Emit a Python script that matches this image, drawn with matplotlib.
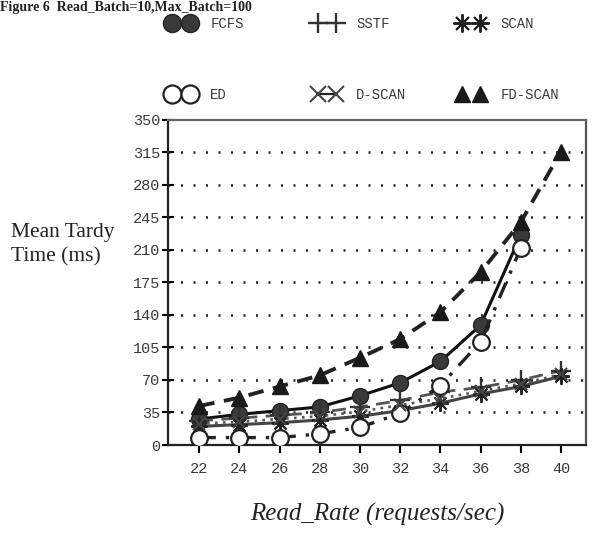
import matplotlib
matplotlib.use("Agg")
import matplotlib.pyplot as plt
from matplotlib.lines import Line2D

# Read rate (requests/sec)
rate = [22, 24, 26, 28, 30, 32, 34, 36, 38, 40]

# Mean tardy time (ms) per scheduling policy
fcfs = [28, 33, 37, 41, 53, 67, 90, 129, 226]
sstf = [26, 29, 32, 35, 41, 48, 57, 62, 70, 80]
scan = [20, 22, 24, 27, 31, 37, 45, 55, 63, 74]
ed = [8, 8, 8, 12, 19, 34, 64, 111, 212]
dscan = [23, 25, 28, 31, 36, 43, 50, 58, 66, 76]
fdscan = [42, 51, 63, 75, 94, 114, 143, 186, 240, 316]

yticks = [0, 35, 70, 105, 140, 175, 210, 245, 280, 315, 350]

fig = plt.figure(figsize=(5.92, 5.33), dpi=100)
ax = fig.add_axes([0.2838, 0.1651, 0.7062, 0.6098])

mono = "Liberation Mono"
serif = "Liberation Serif"

# horizontal dotted grid
for v in yticks[1:-1]:
    ax.axhline(v, color="#222222", lw=1.8, ls=(0, (0.8, 4.2)), zorder=1)

styles = {
    "FCFS": dict(x=rate[:len(fcfs)], y=fcfs, color="#111111", lw=2.2, ls="-",
                 marker="o", ms=11.5, mfc="#3a3a3a", mec="#222222"),
    "SSTF": dict(x=rate, y=sstf, color="#555555", lw=2.0, ls=(0, (5, 3)),
                 marker="+", ms=14, mfc="none", mec="#333333", mew=1.7),
    "SCAN": dict(x=rate, y=scan, color="#444444", lw=2.2, ls="-",
                 marker=(8, 2, 0), ms=12, mfc="#333333", mec="#222222", mew=1.4),
    "ED": dict(x=rate[:len(ed)], y=ed, color="#222222", lw=2.4, ls=(0, (5, 3, 1, 3)),
               marker="o", ms=12, mfc="white", mec="#222222", mew=1.6),
    "D-SCAN": dict(x=rate, y=dscan, color="#555555", lw=1.9, ls=(0, (1, 2)),
                   marker="x", ms=9, mfc="none", mec="#444444", mew=1.5),
    "FD-SCAN": dict(x=rate, y=fdscan, color="#222222", lw=2.8, ls=(0, (4, 2.5)),
                    marker="^", ms=11, mfc="#1a1a1a", mec="#1a1a1a"),
}

for name, s in styles.items():
    s = dict(s)
    x = s.pop("x")
    y = s.pop("y")
    ax.plot(x, y, zorder=3, **s)

ax.set_xlim(20.45, 41.25)
ax.set_ylim(0, 350)
ax.set_xticks(rate)
ax.set_yticks(yticks)
ax.set_xticklabels([str(r) for r in rate], fontfamily=mono, fontsize=11, color="#3a3a3a")
ax.set_yticklabels([str(v) for v in yticks], fontfamily=mono, fontsize=11, color="#3a3a3a")
ax.tick_params(axis="y", direction="inout", length=9, width=1.5, pad=1)
ax.tick_params(axis="x", direction="out", length=6, width=1.5, pad=6)
for sp in ax.spines.values():
    sp.set_linewidth(1.6)
    sp.set_color("#222222")
ax.spines["top"].set_color("#666666")
ax.spines["right"].set_color("#555555")

fig.text(0.018, 0.541, "Mean Tardy\nTime (ms)", fontfamily=serif, fontsize=15.5,
         color="#222222", ha="left", va="center", linespacing=1.35)
fig.text(0.637, 0.035, "Read_Rate (requests/sec)", fontfamily=serif, fontsize=18,
         style="italic", color="#222222", ha="center", va="center")

fig.text(0.0, 0.999, "Figure 6  Read_Batch=10,Max_Batch=100", fontfamily=serif,
         fontsize=10, fontweight="bold", color="#222222", ha="left", va="top")

# legend above the axes: three columns, two entries each
columns = [["FCFS", "ED"], ["SSTF", "D-SCAN"], ["SCAN", "FD-SCAN"]]
col_x = [0.2834, 0.5301, 0.7733]
legend_ms = {"FCFS": 13, "ED": 13, "SSTF": 15, "D-SCAN": 11, "SCAN": 13, "FD-SCAN": 12}
for names, cx in zip(columns, col_x):
    handles = []
    for name in names:
        s = styles[name]
        handles.append(Line2D([], [], ls="-" if name in ("SSTF", "D-SCAN") else "none",
                              lw=1.6, color="#222222", marker=s["marker"],
                              ms=legend_ms[name], mfc=s["mfc"], mec=s["mec"],
                              mew=s.get("mew", 1.0)))
    leg = fig.legend(handles, names, loc="center left", bbox_to_anchor=(cx, 0.8884),
                     frameon=False, numpoints=2, handlelength=1.9, handletextpad=1.15,
                     borderpad=0, borderaxespad=0, labelspacing=4.1,
                     prop={"family": mono, "size": 10})
    for t in leg.get_texts():
        t.set_color("#3a3a3a")

fig.savefig("out.png", dpi=100)
